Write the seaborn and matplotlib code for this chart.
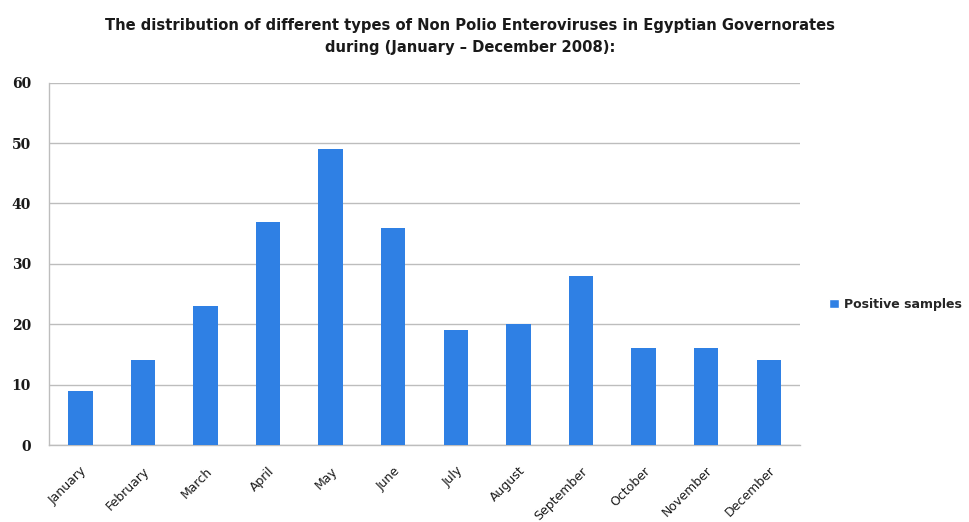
import matplotlib
matplotlib.use("Agg")
import matplotlib.pyplot as plt
import seaborn as sns
import pandas as pd
from matplotlib.patches import Patch

months = ["January", "February", "March", "April", "May", "June",
          "July", "August", "September", "October", "November", "December"]
positive_samples = [9, 14, 23, 37, 49, 36, 19, 20, 28, 16, 16, 14]
y_ticks = [0, 10, 20, 30, 40, 50, 60]
series_name = "Positive samples"
title = ("The distribution of different types of Non Polio Enteroviruses in Egyptian Governorates\n"
         "during (January \u2013 December 2008):")

df = pd.DataFrame({"month": months, "value": positive_samples})

sns.set_theme(style="white")
plt.rcParams["font.family"] = ["DejaVu Sans"]

bar_color = "#2F80E4"
grid_color = "#BDBDBD"

fig = plt.figure(figsize=(9.69, 5.22), dpi=100)
ax = fig.add_axes([0.0506, 0.1475, 0.775, 0.694])

sns.barplot(data=df, x="month", y="value", color=bar_color, width=0.39,
            saturation=1, ax=ax, zorder=3, edgecolor="none")

ax.set_ylim(0, 60)
ax.set_xlim(-0.5, len(months) - 0.5)
ax.set_yticks(y_ticks)
ax.set_yticklabels([str(v) for v in y_ticks], family="DejaVu Serif",
                   fontweight="bold", fontsize=10, color="#1a1a1a")
ax.yaxis.grid(True, color=grid_color, linewidth=1.0, zorder=0)
ax.set_xlabel("")
ax.set_ylabel("")

# category ticks sit on the boundaries between bars
ax.set_xticks(range(len(months)))
ax.set_xticklabels(months, rotation=45, ha="right", rotation_mode="anchor",
                   fontsize=9, color="#1a1a1a")
ax.tick_params(axis="x", length=0, pad=14)
ax.set_xticks([i - 0.5 for i in range(len(months) + 1)], minor=True)
ax.tick_params(axis="x", which="minor", length=5, color=grid_color, width=1)
ax.tick_params(axis="y", length=5, color=grid_color, width=1, pad=8)

for side in ["top", "right"]:
    ax.spines[side].set_visible(False)
for side in ["left", "bottom"]:
    ax.spines[side].set_color(grid_color)
    ax.spines[side].set_linewidth(1.0)

fig.text(0.485, 0.965, title, ha="center", va="top", fontsize=10.6,
         fontweight="bold", linespacing=1.6, color="#1a1a1a")

fig.legend(handles=[Patch(facecolor=bar_color, label=series_name)],
           loc="center left", bbox_to_anchor=(0.856, 0.417), frameon=False,
           handlelength=0.8, handleheight=0.8, handletextpad=0.35,
           borderpad=0, borderaxespad=0,
           prop={"weight": "bold", "size": 9})

fig.savefig("out.png", dpi=100)
